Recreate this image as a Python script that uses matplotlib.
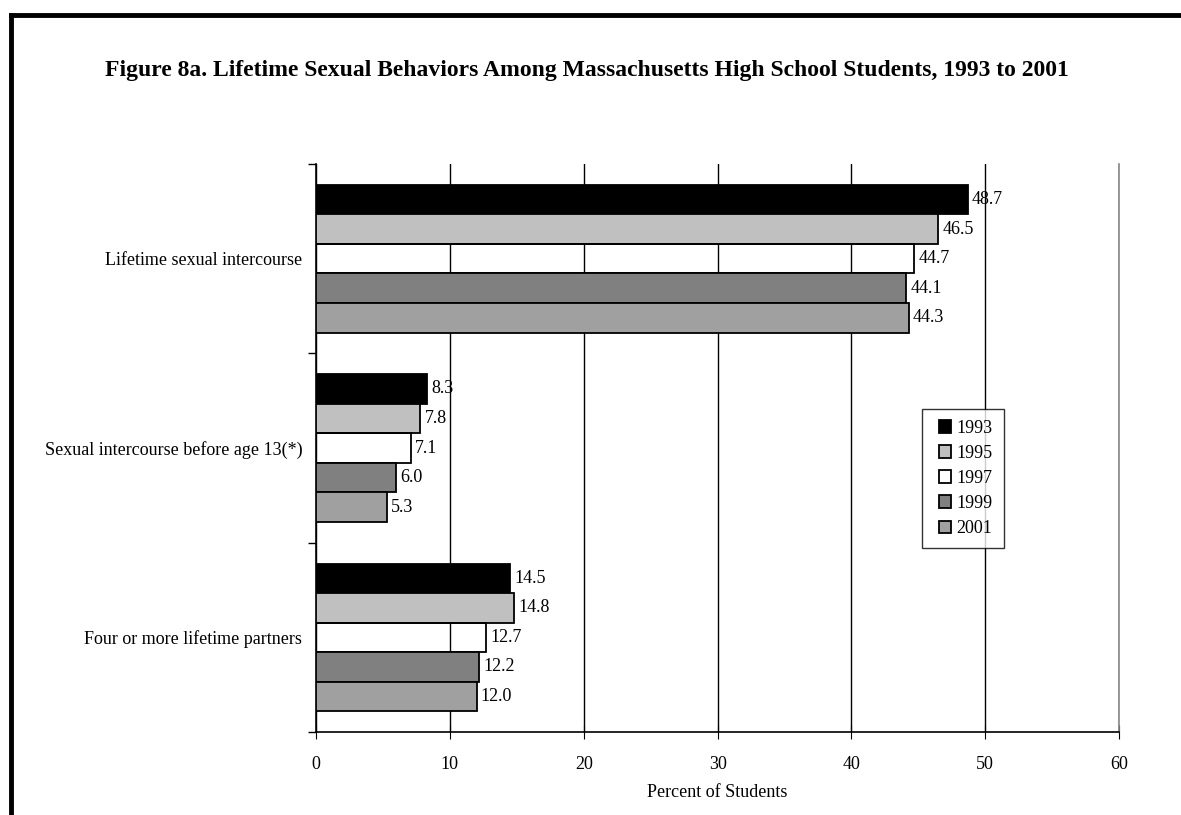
import matplotlib.pyplot as plt
import numpy as np
from matplotlib.lines import Line2D
from matplotlib.patches import Rectangle
from matplotlib.container import BarContainer
from matplotlib.legend_handler import HandlerPatch, update_from_first_child

# Data
categories = ['Lifetime sexual intercourse',
              'Sexual intercourse before age 13(*)',
              'Four or more lifetime partners']
years = ['1993', '1995', '1997', '1999', '2001']
v1993 = [48.7, 8.3, 14.5]
v1995 = [46.5, 7.8, 14.8]
v1997 = [44.7, 7.1, 12.7]
v1999 = [44.1, 6.0, 12.2]
v2001 = [44.3, 5.3, 12.0]
series = [v1993, v1995, v1997, v1999, v2001]
colors = ['#000000', '#c0c0c0', 'none', '#808080', '#a0a0a0']

plt.rcParams['font.family'] = ['Liberation Serif', 'DejaVu Serif']

fig = plt.figure(figsize=(11.81, 8.15), dpi=100)
ax = fig.add_axes([0.2676, 0.1018, 0.680, 0.697])

y = np.arange(len(categories))
h = 0.156
for i, (vals, c, yr) in enumerate(zip(series, colors, years)):
    pos = y - 2 * h + i * h
    bars = ax.barh(pos, vals, height=h, color=c, edgecolor='black',
                   linewidth=1.3, label=yr, zorder=3)
    for b, v in zip(bars, vals):
        ax.text(v + 0.3, b.get_y() + b.get_height() / 2, f'{v:.1f}',
                va='center', ha='left', fontsize=13, zorder=4)

ax.set_xlim(0, 60)
ax.set_ylim(2.5, -0.5)
ax.set_xticks(range(0, 61, 10))
ax.tick_params(axis='x', direction='inout', length=10, labelsize=13, pad=12)
ax.set_yticks(y)
ax.set_yticklabels(categories, fontsize=13)
ax.tick_params(axis='y', length=0, pad=10)
ax.set_yticks([-0.5, 0.5, 1.5, 2.5], minor=True)
ax.tick_params(axis='y', which='minor', length=6, direction='out', width=1)
ax.grid(axis='x', color='black', linewidth=1, zorder=0)
ax.set_axisbelow(True)

for s in ['left', 'bottom']:
    ax.spines[s].set_linewidth(1.2)
    ax.spines[s].set_color('black')
ax.spines['top'].set_visible(False)
ax.spines['right'].set_color('#888888')
ax.spines['right'].set_linewidth(1.2)

ax.set_xlabel('Percent of Students', fontsize=13, labelpad=8)


# square legend keys pushed to the right end of the handle box
def square_key(legend, orig_handle, xdescent, ydescent, width, height, fontsize):
    side = height
    return Rectangle((-xdescent + width - side, -ydescent), side, side)


leg = ax.legend(loc='upper left', bbox_to_anchor=(0.755, 0.569),
                fontsize=13, frameon=True, fancybox=False, edgecolor='black',
                handlelength=1.0, handleheight=0.68, handletextpad=0.3,
                labelspacing=0.45, borderpad=0.6, borderaxespad=0,
                handler_map={BarContainer: HandlerPatch(
                    patch_func=square_key, update_func=update_from_first_child)})
leg.get_frame().set_linewidth(1)
for p in leg.get_patches():
    if p.get_facecolor()[3] == 0:
        p.set_facecolor('white')

fig.text(0.497, 0.914,
         'Figure 8a. Lifetime Sexual Behaviors Among Massachusetts High School Students, 1993 to 2001',
         ha='center', va='center', fontsize=17, fontweight='bold')

# page border (left and top edges)
fig.add_artist(Line2D([0.0093, 0.0093], [0, 0.982], color='black', linewidth=3.5,
                      transform=fig.transFigure))
fig.add_artist(Line2D([0.0093, 1.0], [0.982, 0.982], color='black', linewidth=3.5,
                      transform=fig.transFigure))

fig.savefig('out.png', dpi=100)
